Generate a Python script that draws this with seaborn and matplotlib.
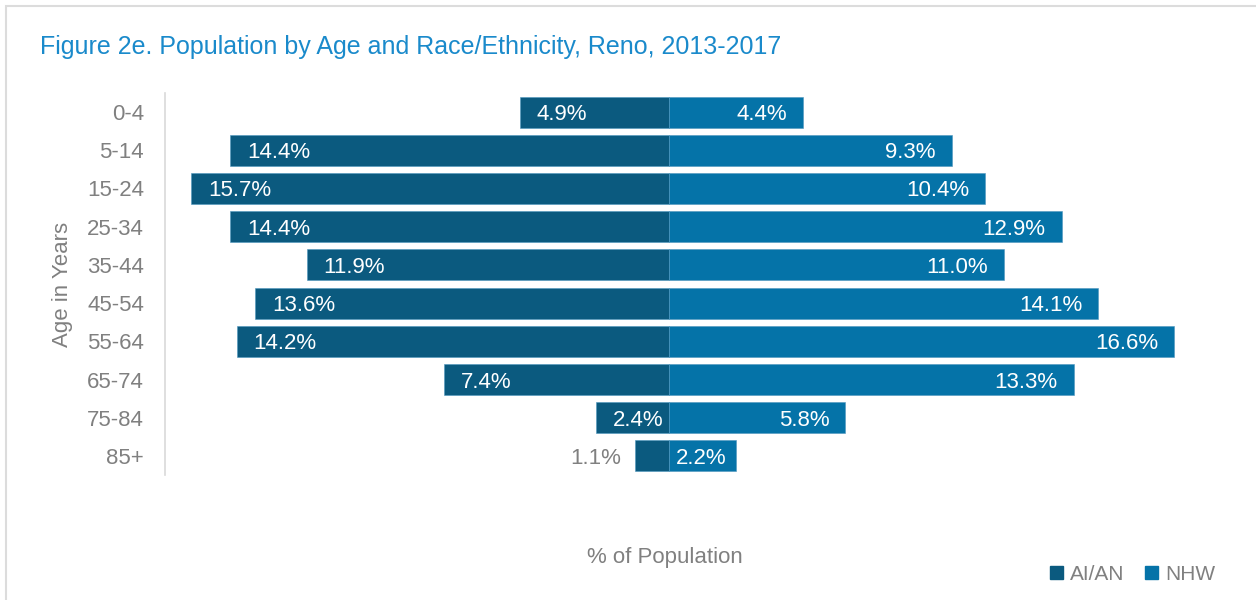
import matplotlib
matplotlib.use('Agg')
import matplotlib.pyplot as plt
import matplotlib.patches as mpatches
import pandas as pd
import seaborn as sns

ages = ['0-4', '5-14', '15-24', '25-34', '35-44', '45-54', '55-64', '65-74', '75-84', '85+']
aian = [4.9, 14.4, 15.7, 14.4, 11.9, 13.6, 14.2, 7.4, 2.4, 1.1]
nhw = [4.4, 9.3, 10.4, 12.9, 11.0, 14.1, 16.6, 13.3, 5.8, 2.2]
groups = ['AI/AN', 'NHW']

sns.set_style('white')
plt.rcParams['font.family'] = ['Liberation Sans', 'DejaVu Sans']

C_AIAN = '#0b5a7f'
C_NHW = '#0573a8'
GREY = '#808080'

df = pd.DataFrame({
    'age': ages * 2,
    'group': ['AI/AN'] * len(ages) + ['NHW'] * len(ages),
    'value': [-v for v in aian] + nhw,
})

fig = plt.figure(figsize=(12.56, 6), dpi=100)
ax = fig.add_axes([165 / 1256, 125 / 600, 1067 / 1256, 382 / 600])

sns.barplot(data=df, y='age', x='value', hue='group', dodge=False,
            palette={'AI/AN': C_AIAN, 'NHW': C_NHW}, width=0.81, saturation=1,
            edgecolor='#4f97bf', linewidth=0.4, ax=ax, legend=False)

ax.set_xlim(-16.55, 18.5)
ax.set_ylim(9.5, -0.5)
ax.set_xticks([])
for s in ['top', 'right', 'bottom']:
    ax.spines[s].set_visible(False)
ax.spines['left'].set_color('#d9d9d9')
ax.spines['left'].set_linewidth(1.2)
ax.tick_params(axis='y', length=0, pad=15, labelsize=16, labelcolor=GREY)
for t in ax.get_yticklabels():
    t.set_va('center_baseline')
ax.set_ylabel('Age in Years', fontsize=16, color=GREY, labelpad=10)
ax.set_xlabel('')

# px per % is about 30.45
pad_l = 17 / 30.45
pad_r = 16 / 30.45
for i, (a, n) in enumerate(zip(aian, nhw)):
    if a > 2.0:
        ax.text(-a + pad_l, i, f'{a:.1f}%', ha='left', va='center_baseline',
                color='white', fontsize=16)
    else:
        ax.text(-a - 14 / 30.45, i, f'{a:.1f}%', ha='right', va='center_baseline',
                color=GREY, fontsize=16)
    if n > 2.0:
        x = max(n - pad_r, 58 / 30.45)
        ax.text(x, i, f'{n:.1f}%', ha='right', va='center_baseline',
                color='white', fontsize=16)

fig.text(40 / 1256, 1 - 47 / 600, 'Figure 2e. Population by Age and Race/Ethnicity, Reno, 2013-2017',
         fontsize=18, color='#1a8acb', ha='left', va='center')
fig.text(665 / 1256, 1 - 558 / 600, '% of Population', fontsize=16, color=GREY,
         ha='center', va='center')

handles = [mpatches.Patch(color=C_AIAN, label='AI/AN'),
           mpatches.Patch(color=C_NHW, label='NHW')]
fig.legend(handles=handles, loc='center right', bbox_to_anchor=(1234 / 1256, 1 - 574 / 600),
           ncol=2, frameon=False, fontsize=15, labelcolor=GREY,
           handlelength=0.6, handleheight=0.6, handletextpad=0.35, columnspacing=1.0)

fig.patches.append(mpatches.Rectangle((6 / 1256, -0.1), 1.2, 1 - 6 / 600 + 0.1,
                                      transform=fig.transFigure, fill=False,
                                      edgecolor='#dcdcdc', linewidth=1.5))

fig.savefig('out.png', dpi=100)
